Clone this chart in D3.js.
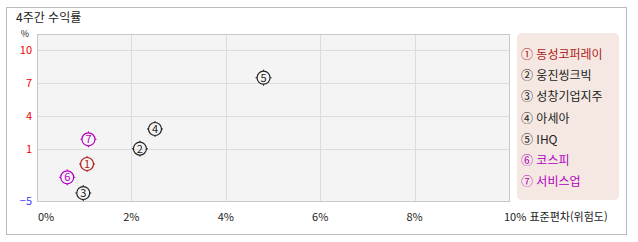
<!DOCTYPE html>
<html lang="ko">
<head>
<meta charset="UTF-8">
<script src="https://cdnjs.cloudflare.com/ajax/libs/d3/7.8.5/d3.min.js"></script>
<style>
    body { margin: 0; background: #fff; }
    text { font-family: 'Noto Sans CJK KR', 'DejaVu Sans', sans-serif; }
</style>
</head>
<body>
<div id="chart"></div>
<script>
    // data
    const names = ["동성코퍼레이", "웅진씽크빅", "성창기업지주", "아세아", "IHQ", "코스피", "서비스업"];
    const marks = ["①", "②", "③", "④", "⑤", "⑥", "⑦"];
    const riskValues = [1.06, 2.18, 0.98, 2.50, 4.80, 0.64, 1.09];
    const returnValues = [-0.73, 1.03, -4.08, 2.82, 7.48, -2.27, 1.88];
    const groups = ["stock", "stock", "stock", "stock", "stock", "index", "index"];
    const xTicks = [0, 2, 4, 6, 8, 10];
    const yTicks = [10, 7, 4, 1, -5];

    const width = 638, height = 242;
    const plot = { left: 37, right: 509, top: 34, bottom: 201 };

    const colorOf = (d, i) => i === 0 ? "#b01818" : (groups[i] === "index" ? "#b000c0" : "#222");

    const svg = d3.select("#chart").append("svg")
        .attr("width", width)
        .attr("height", height);

    // outer frame
    svg.append("rect")
        .attr("x", 6.5).attr("y", 7.5)
        .attr("width", 620).attr("height", 227)
        .attr("fill", "#fff").attr("stroke", "#bbb");

    svg.append("text")
        .attr("x", 16).attr("y", 22)
        .attr("font-size", 12).attr("fill", "#222")
        .text("4주간 수익률");

    const x = d3.scaleLinear().domain([0, 10]).range([plot.left, plot.right]);
    // the y axis is broken below 1: -5..1 and 1..10 use different steps
    const y = d3.scaleLinear().domain([-5, 1, 10]).range([plot.bottom, 149, 50]);

    svg.append("rect")
        .attr("x", plot.left + 0.5).attr("y", plot.top + 0.5)
        .attr("width", plot.right - plot.left).attr("height", plot.bottom - plot.top)
        .attr("fill", "#f4f4f4").attr("stroke", "#c8c8c8");

    // grid
    svg.append("g").selectAll("line")
        .data(xTicks.filter(t => t > 0 && t < 10))
        .join("line")
        .attr("x1", d => Math.round(x(d)) + 0.5).attr("x2", d => Math.round(x(d)) + 0.5)
        .attr("y1", plot.top + 1).attr("y2", plot.bottom)
        .attr("stroke", "#dcdcdc");

    svg.append("g").selectAll("line")
        .data(yTicks.filter(t => t > -5))
        .join("line")
        .attr("x1", plot.left + 1).attr("x2", plot.right)
        .attr("y1", d => Math.round(y(d)) + 0.5).attr("y2", d => Math.round(y(d)) + 0.5)
        .attr("stroke", "#dcdcdc");

    // y labels
    svg.append("text")
        .attr("x", 29).attr("y", 37)
        .attr("text-anchor", "end").attr("font-size", 9).attr("fill", "#222")
        .text("%");

    svg.append("g").selectAll("text")
        .data(yTicks)
        .join("text")
        .attr("x", 32)
        .attr("y", d => y(d) + 4)
        .attr("text-anchor", "end")
        .attr("font-size", 11)
        .attr("fill", d => d < 0 ? "#4040ff" : "#f00000")
        .text(d => d < 0 ? "\u2212" + Math.abs(d) : d);

    // x labels
    svg.append("g").selectAll("text")
        .data(xTicks)
        .join("text")
        .attr("x", d => d === 0 ? x(d) + 1 : (d === 10 ? x(d) - 5 : x(d)))
        .attr("y", 221)
        .attr("text-anchor", d => (d === 0 || d === 10) ? "start" : "middle")
        .attr("font-size", 11)
        .attr("fill", "#222")
        .text(d => d === 10 ? d + "% 표준편차(위험도)" : d + "%");

    // points
    const pts = svg.append("g").selectAll("g")
        .data(names)
        .join("g")
        .attr("transform", (d, i) => `translate(${x(riskValues[i])},${y(returnValues[i])})`);

    pts.append("circle")
        .attr("r", 6.5)
        .attr("fill", "none")
        .attr("stroke", colorOf)
        .attr("stroke-width", 1.2);

    pts.each(function (d, i) {
        const g = d3.select(this);
        [[0, -6.5, 0, -8], [0, 6.5, 0, 8], [-6.5, 0, -8, 0], [6.5, 0, 8, 0]].forEach(s => {
            g.append("line")
                .attr("x1", s[0]).attr("y1", s[1]).attr("x2", s[2]).attr("y2", s[3])
                .attr("stroke", colorOf(d, i)).attr("stroke-width", 1);
        });
    });

    pts.append("text")
        .attr("text-anchor", "middle")
        .attr("y", 4)
        .attr("font-size", 11)
        .attr("fill", colorOf)
        .text((d, i) => i + 1);

    // legend
    svg.append("rect")
        .attr("x", 517).attr("y", 33)
        .attr("width", 102).attr("height", 167)
        .attr("rx", 5)
        .attr("fill", "#f5e8e2");

    svg.append("g").selectAll("text")
        .data(names)
        .join("text")
        .attr("x", 521)
        .attr("y", (d, i) => 59 + i * 21.2)
        .attr("font-size", 12)
        .attr("fill", colorOf)
        .text((d, i) => marks[i] + " " + d);
</script>
</body>
</html>
